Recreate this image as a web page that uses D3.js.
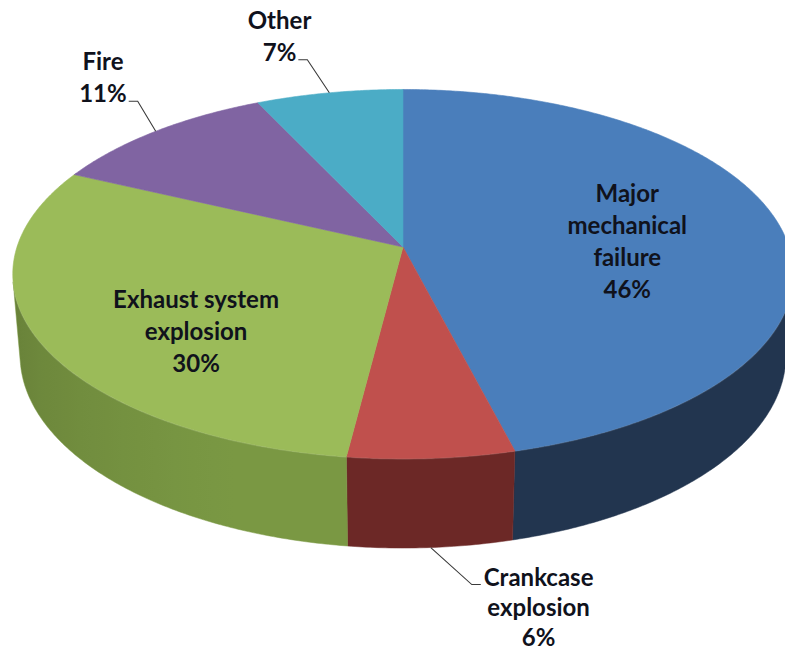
<!DOCTYPE html>
<html>
<head>
<meta charset="utf-8">
<script src="https://cdn.jsdelivr.net/npm/d3@7"></script>
<style>
  html, body { margin: 0; padding: 0; background: #ffffff; }
  svg { display: block; }
</style>
</head>
<body>
<svg id="chart" width="785" height="651"></svg>
<script>
// ---- data ----
const categories = ["Major mechanical failure", "Crankcase explosion", "Exhaust system explosion", "Fire", "Other"];
const shares = [46, 6, 30, 11, 7];
const nameLines = [["Major", "mechanical", "failure"], ["Crankcase", "explosion"], ["Exhaust system", "explosion"], ["Fire"], ["Other"]];
const topColors = ["#4a7ebb", "#c0504d", "#9bbb59", "#8064a2", "#4bacc6"];
const sideColors = ["#22354f", "#6c2826", "#7a9843", "#4d3c62", "#2d6777"];

// ---- label layout: inside labels sit on the slice, outside ones hang off a leader ----
const labelMode = ["inside", "outside", "inside", "outside", "outside"];
const insideLabel = { 0: { r: 0.6, dx: -3, dy: 8 }, 2: { r: 0.6, dx: 5, dy: 30 } };
const leaderBend = { 1: [41, 37], 3: [-18, -30], 4: [-22, -33] };
const leaderTail = 9;
const lineHeight = 32;

// ---- 3D view of the disc ----
const cx = 403, cy = 247;          // screen position of the disc centre
const halfWidth = 386;             // projected radius through the centre
const tilt = 27.9 * Math.PI / 180; // camera elevation
const persp = 0.166;               // radius / camera distance
const depth = 0.24;                // thickness relative to radius

function project(theta, r, y) {
  const X = r * Math.sin(theta), Z = r * Math.cos(theta);
  const yv = y * Math.cos(tilt) + Z * Math.sin(tilt);
  const zv = 1 + persp * (-y * Math.sin(tilt) + Z * Math.cos(tilt));
  return [cx + halfWidth * X / zv, cy - halfWidth * yv / zv];
}

// part of the rim that faces the camera
const cutoff = Math.acos(-persp / Math.cos(tilt));
const visStart = cutoff, visEnd = 2 * Math.PI - cutoff;

const svg = d3.select("#chart");
const defs = svg.append("defs");
const pie = d3.pie().sort(null).value(d => d);
const arcs = pie(shares);
const step = Math.PI / 360;

function samples(a, b) {
  const n = Math.max(2, Math.ceil((b - a) / step));
  return d3.range(n + 1).map(i => a + (b - a) * i / n);
}

// wall shading: darkens as the wall turns away to the left
function wallColor(i, t) {
  const s = Math.max(0, Math.min(1, (t - 3.55) / (visEnd - 3.55))) * 0.16;
  return d3.interpolateRgb(sideColors[i], "#000")(s);
}

// ---- rim (side walls) ----
const sideG = svg.append("g");
arcs.forEach((d, i) => {
  const a = Math.max(d.startAngle, visStart), b = Math.min(d.endAngle, visEnd);
  if (a >= b) return;
  const ts = samples(a, b);
  const top = ts.map(t => project(t, 1, 0));
  const bot = ts.map(t => project(t, 1, -depth)).reverse();
  const xs = top.map(p => p[0]);
  const x0 = d3.min(xs), x1 = d3.max(xs);
  const gid = "wall" + i;
  const grad = defs.append("linearGradient")
    .attr("id", gid)
    .attr("gradientUnits", "userSpaceOnUse")
    .attr("x1", x0).attr("y1", 0).attr("x2", x1).attr("y2", 0);
  const stops = ts.filter((t, k) => k % 6 === 0 || k === ts.length - 1)
    .map(t => ({ x: project(t, 1, 0)[0], c: wallColor(i, t) }))
    .sort((p, q) => p.x - q.x);
  stops.forEach(s => {
    grad.append("stop")
      .attr("offset", x1 > x0 ? (s.x - x0) / (x1 - x0) : 0)
      .attr("stop-color", s.c);
  });
  sideG.append("path")
    .attr("d", "M" + top.concat(bot).map(p => p.join(",")).join("L") + "Z")
    .attr("fill", `url(#${gid})`)
    .attr("stroke", sideColors[i])
    .attr("stroke-width", 0.5)
    .attr("stroke-linejoin", "round");
});

// soft highlight along the front rim edge
const rimTs = samples(visStart, visEnd);
svg.append("path")
  .attr("d", d3.line()(rimTs.map(t => project(t, 1, 0))))
  .attr("fill", "none")
  .attr("stroke", "#ffffff")
  .attr("stroke-opacity", 0.12)
  .attr("stroke-width", 2);

// ---- top faces ----
const topG = svg.append("g");
arcs.forEach((d, i) => {
  const pts = [project(0, 0, 0)].concat(samples(d.startAngle, d.endAngle).map(t => project(t, 1, 0)));
  topG.append("path")
    .attr("d", "M" + pts.map(p => p.join(",")).join("L") + "Z")
    .attr("fill", topColors[i])
    .attr("stroke", topColors[i])
    .attr("stroke-width", 0.6)
    .attr("stroke-linejoin", "round");
});

// ---- data labels ----
const labelG = svg.append("g")
  .attr("font-family", "Lato, 'Open Sans', sans-serif")
  .attr("font-weight", 700)
  .attr("font-size", 24)
  .attr("fill", "#10121c")
  .attr("text-anchor", "middle");

function textWidth(str) {
  const t = labelG.append("text").text(str);
  const w = t.node().getComputedTextLength();
  t.remove();
  return w;
}

arcs.forEach((d, i) => {
  const lines = nameLines[i].concat([shares[i] + "%"]);
  const mid = (d.startAngle + d.endAngle) / 2;
  if (labelMode[i] === "inside") {
    const cfg = insideLabel[i];
    const p = project(mid, cfg.r, 0);
    const cxl = p[0] + cfg.dx, cyl = p[1] + cfg.dy;
    const first = cyl - (lines.length - 1) * lineHeight / 2 + 8.5;
    lines.forEach((s, k) => {
      labelG.append("text").attr("x", cxl).attr("y", first + k * lineHeight).text(s);
    });
  } else {
    const front = Math.cos(mid) < -persp / Math.cos(tilt);
    const start = project(mid, 1, front ? -depth : 0);
    const off = leaderBend[i];
    const bend = [start[0] + off[0], start[1] + off[1]];
    const dir = off[0] < 0 ? -1 : 1;
    const tail = [bend[0] + dir * leaderTail, bend[1]];
    svg.append("path")
      .attr("d", d3.line()([start, bend, tail]))
      .attr("fill", "none")
      .attr("stroke", "#3a3a3a")
      .attr("stroke-width", 1.1);
    if (dir < 0) {
      // leader meets the end of the last line
      const lw = textWidth(lines[lines.length - 1]);
      const cxl = tail[0] - 2 - lw / 2;
      const last = tail[1] + 1;
      lines.forEach((s, k) => {
        labelG.append("text").attr("x", cxl).attr("y", last - (lines.length - 1 - k) * lineHeight).text(s);
      });
    } else {
      // leader meets the start of the first line
      const fw = textWidth(lines[0]);
      const cxl = tail[0] + 3 + fw / 2;
      const first = tail[1] + 1;
      lines.forEach((s, k) => {
        labelG.append("text").attr("x", cxl).attr("y", first + k * (lineHeight - 2)).text(s);
      });
    }
  }
});
</script>
</body>
</html>
